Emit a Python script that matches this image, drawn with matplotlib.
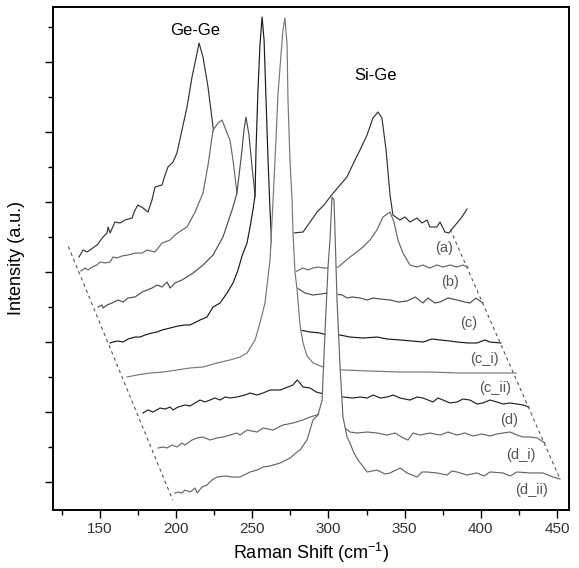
import matplotlib
matplotlib.use("Agg")
import matplotlib.pyplot as plt

plt.rcParams['font.family'] = ['Liberation Sans', 'DejaVu Sans']
plt.rcParams['mathtext.default'] = 'regular'

# waterfall traces, already offset as drawn (Raman shift, intensity a.u.)
x_a = [136.2, 138.8, 141.5, 148.0, 152.0, 154.6, 155.3, 156.6, 159.8, 163.1, 166.4, 171.0, 173.0, 174.9,
       178.2, 181.5, 184.1, 186.1, 190.7, 192.7, 194.6, 197.9, 200.5, 203.8, 207.1, 210.4, 213.7, 215.0,
       217.6, 220.9, 224.2, 228.8, 238.6, 251.8, 264.9, 276.7, 283.3, 287.9, 292.5, 297.0, 301.0, 307.6,
       312.1, 317.4, 320.7, 325.3, 329.2, 332.5, 335.1, 337.8, 340.4, 342.3, 346.9, 350.2, 353.5, 358.1,
       361.4, 364.7, 366.6, 371.2, 373.2, 376.5, 379.1, 381.7, 384.4, 387.6, 390.9]
y_a = [3.214, 3.314, 3.286, 3.386, 3.5, 3.557, 3.643, 3.557, 3.714, 3.7, 3.743, 3.771, 3.886, 3.957,
       3.914, 3.857, 4.029, 4.214, 4.243, 4.386, 4.5, 4.571, 4.7, 5.029, 5.357, 5.786, 6.129, 6.271,
       6.071, 5.643, 5.071, 4.457, 3.957, 3.671, 3.571, 3.557, 3.571, 3.714, 3.857, 3.957, 4.071, 4.243,
       4.357, 4.6, 4.743, 4.957, 5.2, 5.286, 5.2, 4.743, 4.1, 3.814, 3.743, 3.786, 3.714, 3.771,
       3.7, 3.743, 3.643, 3.643, 3.714, 3.571, 3.557, 3.629, 3.7, 3.786, 3.9]

x_b = [137.5, 140.2, 142.1, 144.7, 148.0, 150.0, 153.3, 156.6, 158.5, 161.2, 164.4, 168.4, 173.0, 177.6,
       180.9, 186.1, 190.7, 196.0, 199.2, 203.8, 207.1, 212.4, 217.6, 220.9, 224.2, 227.5, 230.1, 233.4,
       235.3, 237.3, 239.9, 245.2, 255.0, 268.2, 278.0, 283.3, 286.5, 289.8, 293.1, 296.4, 301.0, 306.3,
       309.5, 314.1, 318.7, 322.7, 327.2, 331.8, 335.8, 340.4, 343.0, 345.6, 348.9, 353.5, 358.1, 362.0,
       366.6, 371.2, 375.2, 379.8, 384.4, 388.3, 391.6]
y_b = [3.014, 3.057, 3.029, 3.071, 3.1, 3.143, 3.129, 3.143, 3.214, 3.2, 3.229, 3.243, 3.271, 3.271,
       3.314, 3.286, 3.414, 3.457, 3.529, 3.6, 3.643, 3.857, 4.129, 4.529, 5.029, 5.129, 5.171, 4.986,
       4.886, 4.6, 4.129, 3.671, 3.243, 3.057, 3.0, 3.057, 3.029, 3.057, 3.071, 3.057, 3.057, 3.071,
       3.129, 3.214, 3.286, 3.357, 3.457, 3.6, 3.786, 3.857, 3.714, 3.457, 3.271, 3.1, 3.071, 3.1,
       3.057, 3.1, 3.071, 3.1, 3.071, 3.1, 3.071]

x_c = [148.7, 151.3, 152.0, 154.6, 157.9, 161.8, 165.1, 168.4, 173.0, 177.6, 180.9, 184.1, 187.4, 190.7,
       194.0, 196.0, 199.2, 203.8, 211.1, 217.6, 224.2, 230.7, 236.7, 239.9, 243.2, 244.5, 245.8, 247.8,
       249.8, 251.8, 256.4, 264.9, 274.8, 279.4, 284.6, 289.8, 299.7, 309.0, 312.3, 315.5, 320.8, 325.4,
       329.3, 334.0, 340.6, 345.8, 351.7, 357.0, 362.0, 365.3, 369.9, 373.2, 378.5, 384.4, 389.6, 392.9,
       396.8, 401.4]
y_c = [2.5, 2.529, 2.486, 2.529, 2.557, 2.6, 2.571, 2.629, 2.643, 2.714, 2.743, 2.771, 2.814, 2.786,
       2.857, 2.771, 2.843, 2.886, 2.986, 3.1, 3.243, 3.5, 3.886, 4.129, 4.743, 5.029, 5.214, 4.957,
       4.5, 4.1, 3.671, 3.143, 2.829, 2.771, 2.7, 2.671, 2.7, 2.671, 2.629, 2.643, 2.629, 2.6,
       2.629, 2.614, 2.6, 2.571, 2.586, 2.643, 2.557, 2.629, 2.557, 2.571, 2.629, 2.6, 2.571, 2.557,
       2.629, 2.557]

x_ci = [156.6, 158.5, 161.8, 165.1, 168.4, 173.0, 176.3, 179.5, 184.1, 187.4, 190.7, 196.0, 201.2, 205.8,
        209.1, 215.6, 220.2, 224.2, 228.8, 233.4, 237.3, 240.6, 243.2, 246.5, 248.5, 250.5, 251.8, 252.4,
        253.7, 255.0, 256.4, 257.7, 259.0, 260.3, 261.6, 263.0, 268.2, 274.8, 281.3, 287.9, 294.4, 299.0,
        307.6, 314.1, 322.7, 331.9, 338.5, 347.0, 354.9, 362.2, 367.9, 373.2, 379.8, 384.4, 391.6, 397.5,
        402.7, 406.0, 413.2]
y_ci = [1.986, 2.0, 2.014, 2.0, 2.043, 2.071, 2.071, 2.1, 2.129, 2.143, 2.171, 2.2, 2.229, 2.243,
        2.243, 2.314, 2.357, 2.5, 2.557, 2.7, 2.843, 3.029, 3.229, 3.414, 3.643, 3.9, 4.1, 4.743,
        5.6, 6.243, 6.643, 6.314, 5.457, 4.6, 3.886, 3.271, 2.743, 2.343, 2.171, 2.143, 2.129, 2.1,
        2.1, 2.071, 2.057, 2.071, 2.043, 2.029, 2.014, 2.0, 2.043, 2.029, 2.014, 2.0, 1.986, 1.986,
        2.029, 2.0, 1.986]

x_cii = [167.7, 174.3, 182.8, 191.4, 200.5, 209.1, 217.6, 226.8, 235.3, 241.9, 246.5, 248.5, 251.8, 255.0,
         258.3, 260.3, 261.6, 263.6, 265.5, 266.8, 268.8, 270.1, 271.4, 272.8, 273.4, 274.7, 276.1, 276.7,
         278.0, 279.4, 281.3, 283.3, 285.9, 289.9, 296.4, 304.3, 309.5, 327.2, 347.0, 366.6, 386.3, 406.0,
         423.2]
y_cii = [1.5, 1.529, 1.557, 1.571, 1.6, 1.629, 1.643, 1.7, 1.743, 1.786, 1.843, 1.914, 2.029, 2.271,
         2.557, 2.929, 3.171, 4.029, 4.886, 5.529, 6.1, 6.457, 6.629, 6.243, 5.457, 4.6, 4.029, 3.557,
         3.0, 2.743, 2.243, 1.986, 1.8, 1.7, 1.643, 1.614, 1.6, 1.586, 1.571, 1.571, 1.557, 1.557,
         1.557]

x_d = [178.2, 181.5, 184.8, 189.4, 192.7, 196.0, 197.9, 201.2, 205.8, 209.1, 212.4, 215.6, 218.9, 222.2,
       225.5, 228.8, 232.1, 235.3, 239.9, 245.2, 248.5, 253.1, 257.0, 261.6, 268.2, 273.4, 276.7, 279.4,
       281.3, 283.3, 287.9, 291.9, 294.4, 301.0, 309.5, 316.1, 320.7, 325.4, 329.3, 334.0, 338.5, 342.5,
       346.9, 353.5, 358.1, 362.0, 368.6, 371.9, 375.2, 379.8, 384.4, 388.3, 392.9, 397.5, 401.4, 406.0,
       410.6, 414.6, 419.2, 423.8, 427.7, 431.6]
y_d = [0.986, 1.029, 1.0, 1.057, 1.043, 1.071, 1.029, 1.071, 1.1, 1.086, 1.129, 1.171, 1.143, 1.171,
       1.2, 1.171, 1.214, 1.2, 1.214, 1.243, 1.271, 1.243, 1.271, 1.314, 1.314, 1.357, 1.386, 1.457,
       1.414, 1.357, 1.343, 1.286, 1.271, 1.243, 1.214, 1.2, 1.214, 1.2, 1.243, 1.2, 1.214, 1.243,
       1.2, 1.171, 1.214, 1.2, 1.143, 1.2, 1.171, 1.129, 1.143, 1.186, 1.171, 1.114, 1.129, 1.171,
       1.143, 1.114, 1.129, 1.114, 1.1, 1.071]

x_di = [188.1, 191.4, 194.0, 197.3, 200.5, 203.8, 205.8, 210.4, 213.7, 217.6, 222.2, 226.8, 230.7, 235.3,
        239.9, 241.9, 246.5, 253.1, 257.0, 263.6, 270.1, 276.7, 283.3, 287.9, 292.5, 294.4, 304.3, 314.1,
        318.7, 325.4, 331.9, 338.5, 343.8, 349.0, 352.2, 355.5, 360.1, 366.6, 373.2, 378.5, 384.4, 389.6,
        394.9, 400.8, 406.0, 410.6, 414.6, 419.2, 423.8, 427.7, 432.3, 436.9, 442.1]
y_di = [0.486, 0.5, 0.486, 0.529, 0.5, 0.557, 0.529, 0.6, 0.629, 0.643, 0.6, 0.629, 0.643, 0.671,
        0.7, 0.671, 0.743, 0.714, 0.771, 0.743, 0.814, 0.843, 0.886, 0.929, 0.957, 0.986, 0.886, 0.714,
        0.7, 0.714, 0.7, 0.671, 0.7, 0.629, 0.6, 0.7, 0.671, 0.7, 0.671, 0.714, 0.671, 0.7,
        0.657, 0.686, 0.657, 0.686, 0.7, 0.714, 0.671, 0.643, 0.643, 0.629, 0.557]

x_dii = [199.2, 201.2, 203.8, 205.8, 209.1, 212.4, 213.7, 217.0, 220.2, 223.5, 226.8, 232.1, 237.3, 241.9,
         248.5, 253.1, 257.0, 261.6, 268.2, 274.8, 279.4, 281.3, 285.9, 289.8, 293.1, 295.8, 297.7, 299.7,
         301.0, 302.3, 303.6, 304.3, 305.6, 307.6, 309.5, 312.2, 314.1, 316.7, 319.4, 325.4, 331.9, 337.1,
         340.4, 347.0, 351.6, 358.2, 361.4, 364.7, 371.2, 377.8, 381.1, 384.4, 390.9, 397.5, 402.1, 406.0,
         414.6, 419.2, 423.8, 432.3, 440.8, 447.4, 452.0]
y_dii = [-0.157, -0.143, -0.157, -0.114, -0.143, -0.086, -0.157, -0.071, -0.043, 0.029, 0.071, 0.086, 0.071, 0.071,
         0.143, 0.171, 0.214, 0.229, 0.271, 0.343, 0.429, 0.457, 0.6, 0.886, 0.957, 1.171, 2.129, 3.071,
         3.471, 4.071, 4.029, 3.557, 2.6, 1.643, 0.929, 0.643, 0.557, 0.414, 0.314, 0.143, 0.171, 0.114,
         0.129, 0.2, 0.129, 0.071, 0.143, 0.143, 0.129, 0.1, 0.157, 0.143, 0.1, 0.129, 0.086, 0.143,
         0.129, 0.086, 0.143, 0.129, 0.129, 0.071, 0.043]

labels = ['(a)', '(b)', '(c)', '(c_i)', '(c_ii)', '(d)', '(d_i)', '(d_ii)']
xs = [x_a, x_b, x_c, x_ci, x_cii, x_d, x_di, x_dii]
ys = [y_a, y_b, y_c, y_ci, y_cii, y_d, y_di, y_dii]
colors = ['#333333', '#666666', '#4d4d4d', '#1a1a1a', '#777777', '#222222', '#666666', '#666666']
label_pos = [(375.8, 3.343), (379.8, 2.857), (392.2, 2.271), (402.1, 1.757),
             (409.3, 1.343), (418.5, 0.886), (426.4, 0.386), (433.6, -0.114)]

fig = plt.figure(figsize=(5.79, 5.68), dpi=100)
ax = fig.add_axes([0.0915, 0.1021, 0.8912, 0.8856])
ymin, ymax = -0.4, 6.786

# back traces first; each one hides what lies under it (hidden-line waterfall)
for i, (x, y) in enumerate(zip(xs, ys)):
    ax.fill_between(x, y, ymin - 1, color='white', lw=0, zorder=2 + 2 * i)
    ax.plot(x, y, color=colors[i], lw=0.85, zorder=3 + 2 * i)

for lab, (lx, ly) in zip(labels, label_pos):
    ax.text(lx, ly, lab, fontsize=10.5, color='#555555', ha='center', va='center', zorder=30)

# dashed guides through the trace ends
ax.plot([x_a[0] - 7, x_dii[0] - 1.5], [y_a[0] + 0.15, y_dii[0] - 0.1],
        ls=(0, (3, 3)), color='#555555', lw=0.8, zorder=30)
ax.plot([x_a[-1] - 11, x_dii[-1]], [y_a[-1] - 0.29, y_dii[-1]],
        ls=(0, (3, 3)), color='#555555', lw=0.8, zorder=30)

ax.text(212.4, 6.443, 'Ge-Ge', fontsize=12, ha='center', va='center', zorder=30)
ax.text(331.2, 5.814, 'Si-Ge', fontsize=12, ha='center', va='center', zorder=30)

ax.set_xlim(119.1, 457.9)
ax.set_ylim(ymin, ymax)
ax.set_xticks([150, 200, 250, 300, 350, 400, 450])
ax.set_xticks([125, 175, 225, 275, 325, 375, 425], minor=True)
ax.set_yticks([0, 1, 2, 3, 4, 5, 6])
ax.set_yticks([-0.5 + k for k in range(1, 8)], minor=True)
ax.set_yticklabels([])
ax.tick_params(which='major', direction='out', length=5.5, width=1, labelsize=11,
               labelcolor='#333333', pad=3)
ax.tick_params(which='minor', direction='out', length=3.5, width=1)
for s in ax.spines.values():
    s.set_linewidth(1.4)
    s.set_zorder(40)

ax.set_xlabel('Raman Shift (cm$^{-1}$)', fontsize=13, labelpad=4)
ax.set_ylabel('Intensity (a.u.)', fontsize=13, labelpad=12)

fig.savefig('out.png', dpi=100)
